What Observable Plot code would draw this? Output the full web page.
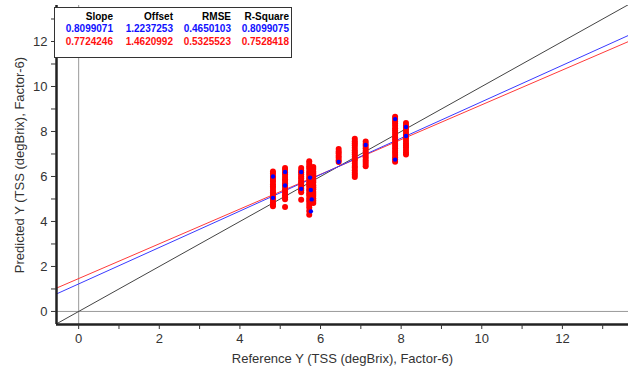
<!DOCTYPE html>
<html><head><meta charset="utf-8">
<script src="https://cdn.jsdelivr.net/npm/d3@7"></script>
<script src="https://cdn.jsdelivr.net/npm/@observablehq/plot@0.6"></script>
<style>
body{margin:0;background:#fff;font-family:"Liberation Sans",Arial,sans-serif}
#wrap{position:relative;width:633px;height:367px}
#legend{position:absolute;left:54px;top:7px;width:236px;height:49px;border:1.5px solid #333;background:#fff;font-size:10px;font-weight:bold}
#legend span{position:absolute;line-height:12px;white-space:nowrap;text-align:right}
</style></head>
<body><div id="wrap"><div id="legend"></div></div>
<script>
// Table of regression statistics
const statNames = ["Slope","Offset","RMSE","R-Square"];
const statsCal = ["0.8099071","1.2237253","0.4650103","0.8099075"];
const statsVal = ["0.7724246","1.4620992","0.5325523","0.7528418"];

// Reference values of the sample groups and predicted values (validation, red)
const refValues = [4.82, 5.12, 5.52, 5.72, 5.82, 6.45, 6.85, 7.12, 7.85, 8.12];
const predVal = [
  [6.22,6.13,6.02,5.94,5.84,5.76,5.65,5.57,5.49,5.38,5.30,5.22,5.11,5.03,4.95,4.84,4.76,4.68],
  [6.38,6.29,6.18,6.09,5.98,5.88,5.81,5.70,5.62,5.54,5.43,5.35,5.27,5.16,5.08,4.99,4.64],
  [6.38,6.27,6.19,6.10,6.00,5.92,5.82,5.74,5.66,5.55,5.47,5.39,5.30,4.96],
  [6.68,6.57,6.45,6.36,6.24,6.15,6.06,5.95,5.86,5.74,5.65,5.56,5.44,5.36,5.25,5.16,5.04,4.95,4.86,4.74,4.62,4.47,4.30],
  [6.42,6.33,6.21,6.12,6.03,5.92,5.81,5.73,5.61,5.52,5.43,5.31,5.22,5.13,5.02,4.92,4.82],
  [7.22,7.11,7.03,6.92,6.83,6.72,6.64],
  [7.68,7.57,7.48,7.39,7.28,7.17,7.08,6.99,6.88,6.77,6.69,6.58,6.47,6.39,6.28,6.17,6.08,5.98],
  [7.55,7.44,7.36,7.25,7.14,7.05,6.96,6.85,6.74,6.66,6.55,6.45],
  [8.65,8.55,8.44,8.35,8.26,8.14,8.05,7.96,7.85,7.74,7.66,7.55,7.44,7.36,7.25,7.14,7.05,6.96,6.84,6.75,6.66],
  [8.38,8.27,8.18,8.09,7.98,7.87,7.78,7.69,7.58,7.47,7.38,7.29,7.18,7.07,6.98]
];
// Calibration points visible (blue)
const calRef  = [4.82,4.82,5.12,5.12,5.52,5.52,5.74,5.76,5.78,5.76,6.45,7.12,7.85,7.85,8.12,8.12];
const calPred = [6.00,5.05,6.20,5.60,6.20,5.45,5.95,5.40,4.98,4.45,6.65,7.40,8.55,6.75,8.20,7.80];

const xTicks = [0,1,2,3,4,5,6,7,8,9,10,11,12,13];
const yTicks = [0,1,2,3,4,5,6,7,8,9,10,11,12,13];

const xDom = [-0.55, 13.64], yDom = [-0.58, 13.6];

const redPts = refValues.flatMap((r,i)=>predVal[i].map(p=>({x:r,y:p})));
const bluePts = calRef.map((r,i)=>({x:r,y:calPred[i]}));
const lineOf = (s,o)=>xDom.map(x=>({x, y: s*x+o}));
const calLine = lineOf(+statsCal[0], +statsCal[1]);
const valLine = lineOf(+statsVal[0], +statsVal[1]);
const idLine = xDom.map(x=>({x,y:x}));

const chart = Plot.plot({
  width:633, height:367,
  marginLeft:56, marginRight:5, marginTop:5, marginBottom:43,
  style:{fontFamily:"Liberation Sans, Arial, sans-serif", fontSize:"13px", color:"#333", background:"#fff"},
  x:{domain:xDom},
  y:{domain:yDom},
  marks:[
    Plot.ruleX([0],{stroke:"#999", strokeWidth:1}),
    Plot.ruleY([0],{stroke:"#999", strokeWidth:1}),
    Plot.line(idLine,{x:"x",y:"y",stroke:"#444",strokeWidth:1,clip:true}),
    Plot.line(valLine,{x:"x",y:"y",stroke:"#ff3a3a",strokeWidth:1,clip:true}),
    Plot.line(calLine,{x:"x",y:"y",stroke:"#3a3aff",strokeWidth:1,clip:true}),
    Plot.dot(redPts,{x:"x",y:"y",r:3,fill:"#ff0000",stroke:null}),
    Plot.dot(bluePts,{x:"x",y:"y",r:2.2,fill:"#0000ff",stroke:null}),
    Plot.ruleX([xDom[0]],{stroke:"#222",strokeWidth:2.5}),
    Plot.ruleY([yDom[0]],{stroke:"#222",strokeWidth:2.5}),
    Plot.axisX({ticks:xTicks, tickSize:5, tickPadding:4, tickFormat:d=>d%2?"":String(d), label:"Reference Y (TSS (degBrix), Factor-6)", labelAnchor:"center", labelArrow:"none", labelOffset:38, fontSize:13}),
    Plot.axisY({ticks:yTicks, tickSize:5, tickPadding:4, tickFormat:d=>d%2?"":String(d), label:"Predicted Y (TSS (degBrix), Factor-6)", labelAnchor:"center", labelArrow:"none", labelOffset:42, fontSize:13})
  ]
});
document.getElementById("wrap").prepend(chart);

// Legend table
const leg = document.getElementById("legend");
const rights = [58,118,176,234];
const rows = [[statNames,"#000",3],[statsCal,"#1010ff",15],[statsVal,"#ff1010",28]];
rows.forEach(([vals,col,top])=>{
  vals.forEach((v,j)=>{
    const s=document.createElement("span");
    s.textContent=v; s.style.color=col; s.style.top=top+"px";
    s.style.right=(236-rights[j])+"px";
    leg.appendChild(s);
  });
});
</script></body></html>
